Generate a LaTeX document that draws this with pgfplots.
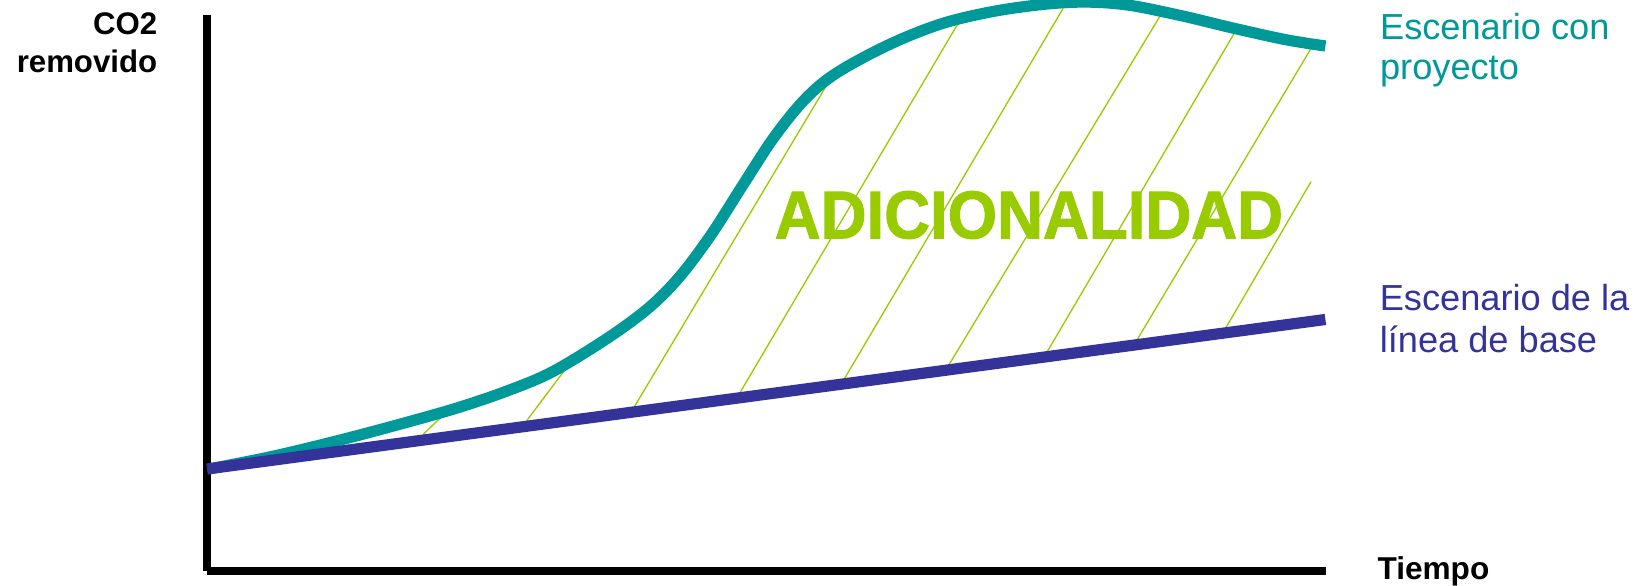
\documentclass[border=0pt]{standalone}
\usepackage{fontspec}
\setmainfont{Liberation Sans}
\newfontfamily\heavyfont{Liberation Sans}[BoldFeatures={FakeBold=1.5}]
\usepackage{pgfplots}
\pgfplotsset{compat=1.18}
\definecolor{tealc}{RGB}{0,153,153}
\definecolor{purp}{RGB}{51,51,153}
\definecolor{limec}{RGB}{153,204,0}
\begin{document}
\begin{tikzpicture}
\begin{axis}[
  at={(51.75pt,3.75pt)}, anchor=south west,
  x=0.25pt, y=0.25pt,
  xmin=0, xmax=1119, ymin=0, ymax=556,
  enlargelimits=false,
  axis lines=left,
  axis line style={-, line width=1.9pt, black},
  xtick=\empty, ytick=\empty,
  clip=false,
]
% hatch lines
\addplot[limec, line width=0.33pt, no marks] coordinates {(216.3,136.7) (236.3,156)};
\addplot[limec, line width=0.33pt, no marks] coordinates {(319.7,150.3) (359.3,203)};
\addplot[limec, line width=0.33pt, no marks] coordinates {(425.4,161) (621.9,489.5)};
\addplot[limec, line width=0.33pt, no marks] coordinates {(531,175) (752.6,550.1)};
\addplot[limec, line width=0.33pt, no marks] coordinates {(635.5,189) (856.1,562.6)};
\addplot[limec, line width=0.33pt, no marks] coordinates {(740,203) (953.3,555.3)};
\addplot[limec, line width=0.33pt, no marks] coordinates {(838.3,216) (1029.6,541.7)};
\addplot[limec, line width=0.33pt, no marks] coordinates {(928.2,228) (1104.9,524)};
\addplot[limec, line width=0.33pt, no marks] coordinates {(1017,240) (1104,389.3)};
% project scenario
\addplot[tealc, line width=2.8pt, no marks, smooth, tension=0.55] coordinates {
(2,102) (64.8,114.5) (127.5,129.5) (190,146) (250,163) (300,180) (345,199)
(399.3,232) (441.1,262.6) (472.4,294) (503.8,335.8) (535.2,384.9)
(566.5,433) (597.9,471.7) (629.2,497.8) (681.5,526.1) (733.8,547)
(786,559.5) (838.3,566.8) (880.1,568.9) (921.9,565.8) (974.2,555.3)
(1026.5,542.8) (1078.7,531.3) (1118.4,525)};
% baseline scenario
\addplot[purp, line width=2.8pt, no marks] coordinates {(0,102) (1118.4,251.5)};
% texts
\node[anchor=base east, inner sep=0, font=\bfseries\fontsize{7.8}{9}\selectfont] at (axis cs:-49,536.7) {CO2};
\node[anchor=base east, inner sep=0, font=\bfseries\fontsize{7.8}{9}\selectfont] at (axis cs:-49,498.3) {removido};
\node[anchor=base west, inner sep=0, text=tealc, font=\fontsize{9.05}{10}\selectfont] at (axis cs:1172.3,531.7) {Escenario con};
\node[anchor=base west, inner sep=0, text=tealc, font=\fontsize{9.05}{10}\selectfont] at (axis cs:1172.3,491) {proyecto};
\node[anchor=base west, inner sep=0, text=purp, font=\fontsize{9.05}{10}\selectfont] at (axis cs:1172,260.3) {Escenario de la};
\node[anchor=base west, inner sep=0, text=purp, font=\fontsize{9.05}{10}\selectfont] at (axis cs:1172,218.3) {línea de base};
\node[anchor=base west, inner sep=0, font=\bfseries\fontsize{7.9}{9}\selectfont] at (axis cs:1169.7,-9) {Tiempo};
\node[anchor=base west, inner sep=0, xscale=0.94, text=limec, font=\heavyfont\bfseries\fontsize{16.9}{20}\selectfont] at (axis cs:567,332.7) {ADICIONALIDAD};
\end{axis}
\pgfresetboundingbox
\useasboundingbox (0,0) rectangle (409.75pt,146.5pt);
\end{tikzpicture}
\end{document}
